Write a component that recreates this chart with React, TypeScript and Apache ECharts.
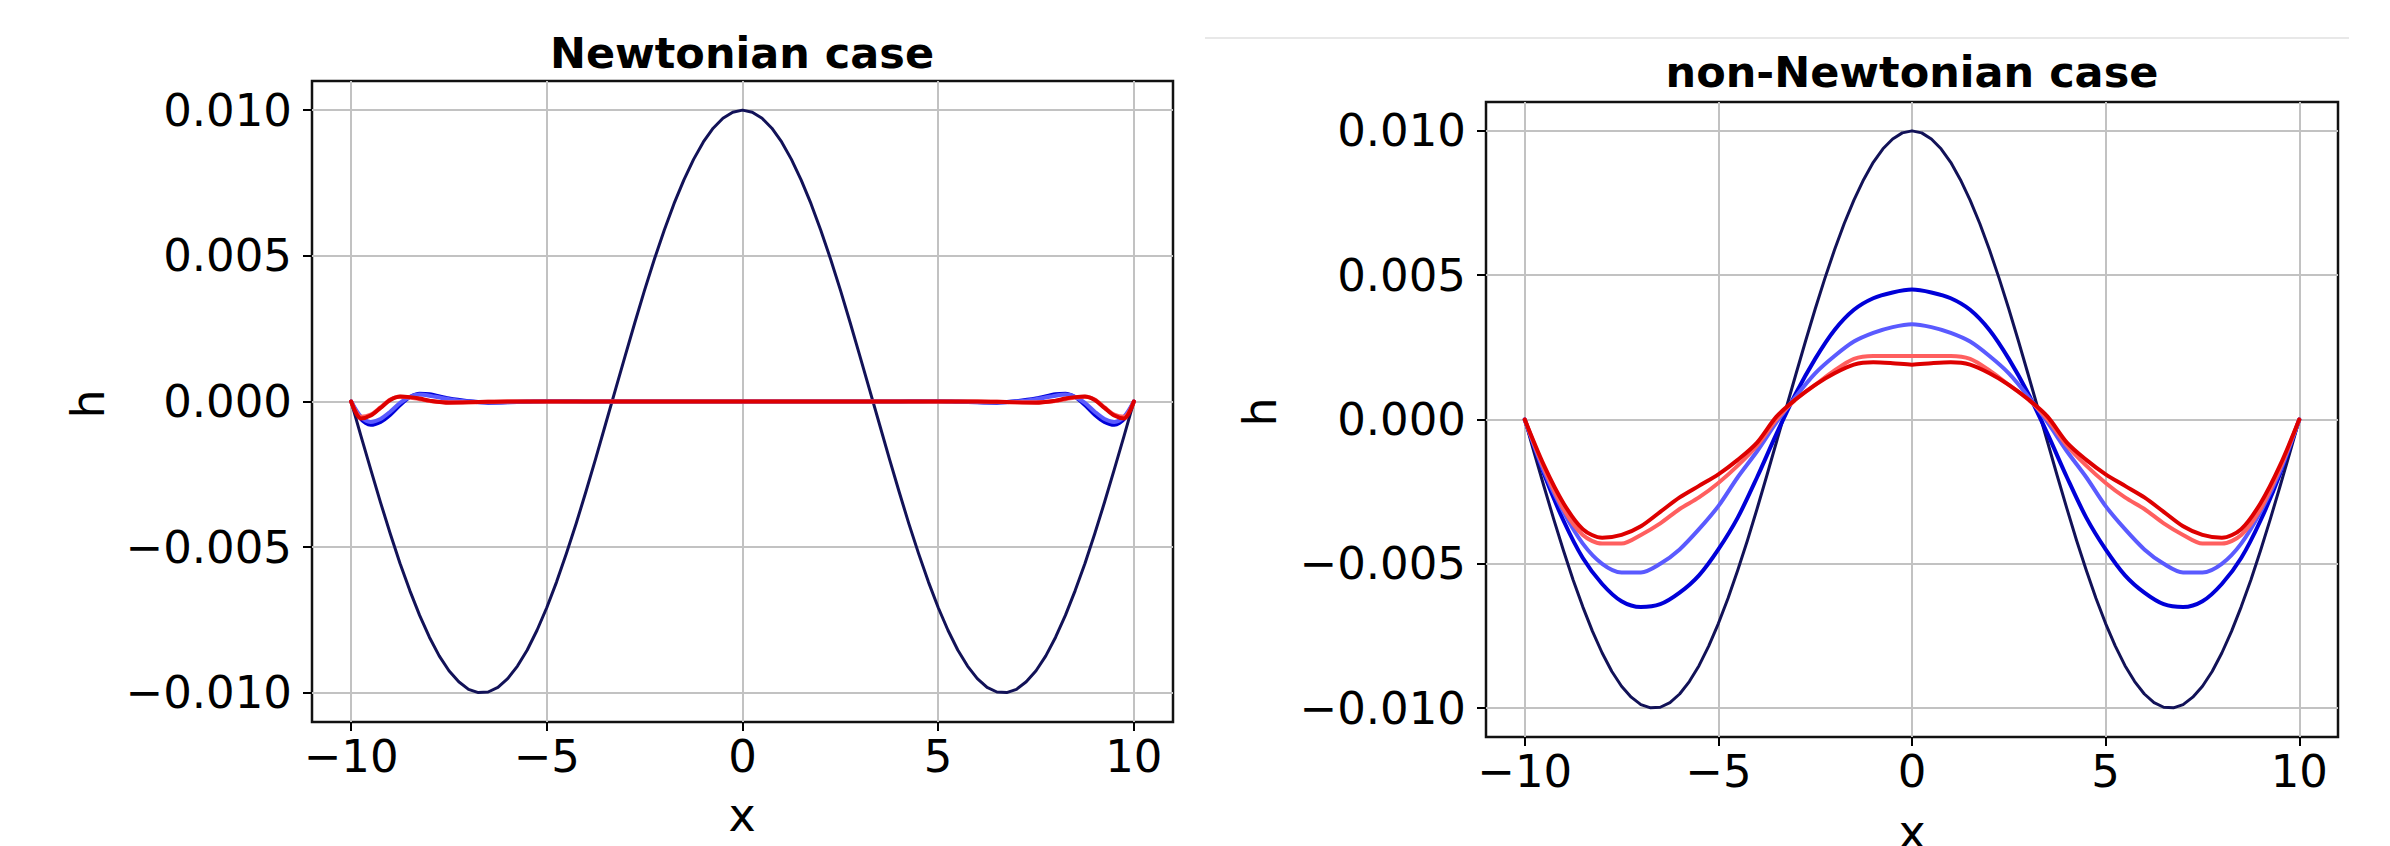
import React, { useEffect, useRef } from "react";
import * as echarts from "echarts";

// ---------- data ----------
const xTicks = [-10, -5, 0, 5, 10];
const yTicks = [-0.01, -0.005, 0, 0.005, 0.01];

// initial profile (dark navy), identical in both panels
const navyX = [-10, -9.75, -9.5, -9.25, -9, -8.75, -8.5, -8.25, -8, -7.75, -7.5, -7.25, -7, -6.75, -6.5, -6.25, -6, -5.75, -5.5, -5.25,
  -5, -4.75, -4.5, -4.25, -4, -3.75, -3.5, -3.25, -3, -2.75, -2.5, -2.25, -2, -1.75, -1.5, -1.25, -1, -0.75, -0.5, -0.25, 0,
  0.25, 0.5, 0.75, 1, 1.25, 1.5, 1.75, 2, 2.25, 2.5, 2.75, 3, 3.25, 3.5, 3.75, 4, 4.25, 4.5, 4.75,
  5, 5.25, 5.5, 5.75, 6, 6.25, 6.5, 6.75, 7, 7.25, 7.5, 7.75, 8, 8.25, 8.5, 8.75, 9, 9.25, 9.5, 9.75, 10];
const navyH = [0, -0.00118, -0.00233, -0.00346, -0.00454, -0.00556, -0.00649, -0.00734, -0.00809, -0.00873, -0.00924, -0.00962, -0.00988, -0.00999, -0.00997, -0.00981, -0.00951, -0.00908, -0.00853, -0.00785,
  -0.00707, -0.00619, -0.00522, -0.00419, -0.00309, -0.00195, -0.00078, 0.00039, 0.00156, 0.00271, 0.00383, 0.00489, 0.00588, 0.00679, 0.0076, 0.00831, 0.00891, 0.00938, 0.00972, 0.00993, 0.01,
  0.00993, 0.00972, 0.00938, 0.00891, 0.00831, 0.0076, 0.00679, 0.00588, 0.00489, 0.00383, 0.00271, 0.00156, 0.00039, -0.00078, -0.00195, -0.00309, -0.00419, -0.00522, -0.00619,
  -0.00707, -0.00785, -0.00853, -0.00908, -0.00951, -0.00981, -0.00997, -0.00999, -0.00988, -0.00962, -0.00924, -0.00873, -0.00809, -0.00734, -0.00649, -0.00556, -0.00454, -0.00346, -0.00233, -0.00118, 0];

const leftX = [-10, -9.75, -9.5, -9.25, -9, -8.75, -8.5, -8.25, -8, -7.5, -7, -6.5, -6, -5.5, -5, -4.5, -4, -3.5, -3, -2.5, -2, -1.5, -1, -0.5, 0,
  0.5, 1, 1.5, 2, 2.5, 3, 3.5, 4, 4.5, 5, 5.5, 6, 6.5, 7, 7.5, 8, 8.25, 8.5, 8.75, 9, 9.25, 9.5, 9.75, 10];

const leftBlue = [0, -0.0006, -0.0008, -0.0007, -0.00045, -0.00012, 0.00015, 0.00027, 0.00025, 0.0001, 0.00001, -0.00004, -0.00003, -0.00001, 0.00001, 0.00001, 0, 0, 0, 0, 0, 0, 0, 0, 0,
  0, 0, 0, 0, 0, 0, 0, 0, 0.00001, 0.00001, -0.00001, -0.00003, -0.00004, 0.00001, 0.0001, 0.00025, 0.00027, 0.00015, -0.00012, -0.00045, -0.0007, -0.0008, -0.0006, 0];

const leftLightBlue = [0, -0.00052, -0.0007, -0.0006, -0.00035, -0.00005, 0.00016, 0.00024, 0.0002, 0.00008, 0, -0.00003, -0.00002, 0, 0.00001, 0, 0, 0, 0, 0, 0, 0, 0, 0, 0,
  0, 0, 0, 0, 0, 0, 0, 0, 0, 0.00001, 0, -0.00002, -0.00003, 0, 0.00008, 0.0002, 0.00024, 0.00016, -0.00005, -0.00035, -0.0006, -0.0007, -0.00052, 0];

const leftLightRed = [0, -0.00052, -0.00045, -0.0002, 0.00007, 0.00016, 0.00014, 0.00008, 0.00002, -0.00003, -0.00003, -0.00001, 0, 0, 0, 0, 0, 0, 0, 0, 0, 0, 0, 0, 0,
  0, 0, 0, 0, 0, 0, 0, 0, 0, 0, 0, 0, -0.00001, -0.00003, -0.00003, 0.00002, 0.00008, 0.00014, 0.00016, 0.00007, -0.0002, -0.00045, -0.00052, 0];

const leftRed = [0, -0.00058, -0.00048, -0.00022, 0.00005, 0.00017, 0.00015, 0.0001, 0.00003, -0.00004, -0.00003, -0.00001, 0, 0, 0, 0, 0, 0, 0, 0, 0, 0, 0, 0, 0,
  0, 0, 0, 0, 0, 0, 0, 0, 0, 0, 0, 0, -0.00001, -0.00003, -0.00004, 0.00003, 0.0001, 0.00015, 0.00017, 0.00005, -0.00022, -0.00048, -0.00058, 0];

const rightX = [-10, -9.5, -9, -8.5, -8, -7.5, -7, -6.5, -6, -5.5, -5, -4.5, -4, -3.5, -3, -2.5, -2, -1.5, -1, -0.5, 0,
  0.5, 1, 1.5, 2, 2.5, 3, 3.5, 4, 4.5, 5, 5.5, 6, 6.5, 7, 7.5, 8, 8.5, 9, 9.5, 10];

const rightBlue = [0, -0.0019, -0.0035, -0.0048, -0.0057, -0.0063, -0.0065, -0.0064, -0.0060, -0.0054, -0.0045, -0.0034, -0.0020, -0.0005, 0.0009, 0.0021, 0.0031, 0.0038, 0.0042, 0.0044, 0.0045,
  0.0044, 0.0042, 0.0038, 0.0031, 0.0021, 0.0009, -0.0005, -0.0020, -0.0034, -0.0045, -0.0054, -0.0060, -0.0064, -0.0065, -0.0063, -0.0057, -0.0048, -0.0035, -0.0019, 0];

const rightLightBlue = [0, -0.0018, -0.0032, -0.0043, -0.0050, -0.0053, -0.0053, -0.0050, -0.0045, -0.0038, -0.0030, -0.0020, -0.0011, -0.0001, 0.0008, 0.0016, 0.0022, 0.0027, 0.0030, 0.0032, 0.0033,
  0.0032, 0.0030, 0.0027, 0.0022, 0.0016, 0.0008, -0.0001, -0.0011, -0.0020, -0.0030, -0.0038, -0.0045, -0.0050, -0.0053, -0.0053, -0.0050, -0.0043, -0.0032, -0.0018, 0];

const rightLightRed = [0, -0.0017, -0.0031, -0.0040, -0.0043, -0.0043, -0.0040, -0.0036, -0.0031, -0.0027, -0.0022, -0.0016, -0.0009, 0.0000, 0.0007, 0.0012, 0.0017, 0.0021, 0.0022, 0.0022, 0.0022,
  0.0022, 0.0022, 0.0021, 0.0017, 0.0012, 0.0007, 0.0000, -0.0009, -0.0016, -0.0022, -0.0027, -0.0031, -0.0036, -0.0040, -0.0043, -0.0043, -0.0040, -0.0031, -0.0017, 0];

const rightRed = [0, -0.0016, -0.0029, -0.0038, -0.0041, -0.0040, -0.0037, -0.0032, -0.0027, -0.0023, -0.0019, -0.0014, -0.0008, 0.0001, 0.0007, 0.0012, 0.0016, 0.0019, 0.00198, 0.00195, 0.0019,
  0.00195, 0.00198, 0.0019, 0.0016, 0.0012, 0.0007, 0.0001, -0.0008, -0.0014, -0.0019, -0.0023, -0.0027, -0.0032, -0.0037, -0.0040, -0.0041, -0.0038, -0.0029, -0.0016, 0];

const titles = ["Newtonian case", "non-Newtonian case"];

// ---------- styling ----------
const FONT = "DejaVu Sans";
const COLORS = { navy: "#121258", blue: "#0000d8", lightBlue: "#5a5aff", lightRed: "#ff5f5f", red: "#dd0000" };

const fmtX = (v: number) => (v < 0 ? "\u2212" + Math.abs(v) : String(v));
const fmtY = (v: number) => (v < -1e-12 ? "\u2212" + Math.abs(v).toFixed(3) : Math.abs(v).toFixed(3));

const pairs = (xs: number[], ys: number[]) => xs.map((x, i) => [x, ys[i]]);

function lineSeries(idx: number, xs: number[], ys: number[], color: string, width: number, smooth: number | boolean) {
  return {
    type: "line",
    xAxisIndex: idx,
    yAxisIndex: idx,
    data: pairs(xs, ys),
    showSymbol: false,
    smooth,
    lineStyle: { color, width, join: "round", cap: "round" },
    itemStyle: { color },
    z: 3,
  };
}

export default function App() {
  const ref = useRef<HTMLDivElement>(null);
  useEffect(() => {
    if (!ref.current) return;
    const chart = echarts.init(ref.current, undefined, { renderer: "svg" });
    const grids = [
      { left: 312, top: 81, width: 861, height: 641 },
      { left: 1486, top: 102, width: 852, height: 635 },
    ];
    const xAxes = [0, 1].map((i) => ({
      type: "value",
      gridIndex: i,
      min: -11,
      max: 11,
      axisLine: { show: false, onZero: false },
      axisTick: { show: true, customValues: xTicks, length: 9, lineStyle: { color: "#000", width: 2 } },
      axisLabel: { customValues: xTicks, formatter: fmtX, fontSize: 45, fontFamily: FONT, color: "#000", margin: 12 },
      splitLine: { show: true, lineStyle: { color: "#c2c2c2", width: 2 } },
    }));
    const yAxes = [0, 1].map((i) => ({
      type: "value",
      gridIndex: i,
      min: -0.011,
      max: 0.011,
      axisLine: { show: false, onZero: false },
      axisTick: { show: true, customValues: yTicks, length: 9, lineStyle: { color: "#000", width: 2 } },
      axisLabel: { customValues: yTicks, formatter: fmtY, fontSize: 45, fontFamily: FONT, color: "#000", margin: 20 },
      splitLine: { show: true, lineStyle: { color: "#c2c2c2", width: 2 } },
    }));
    const text = (t: string, x: number, y: number, font: string, rotation = 0) => ({
      type: "text",
      x,
      y,
      rotation,
      style: { text: t, font, fill: "#000", textAlign: "center", textVerticalAlign: "middle", align: "center", verticalAlign: "middle" },
      z: 10,
    });
    chart.setOption({
      animation: false,
      backgroundColor: "#ffffff",
      grid: grids.map((g) => ({ ...g, show: true, borderColor: "#111111", borderWidth: 2.5, backgroundColor: "transparent" })),
      xAxis: xAxes,
      yAxis: yAxes,
      series: [
        lineSeries(0, navyX, navyH, COLORS.navy, 3, false),
        lineSeries(0, leftX, leftBlue, COLORS.blue, 4, 0.3),
        lineSeries(0, leftX, leftLightBlue, COLORS.lightBlue, 4, 0.3),
        lineSeries(0, leftX, leftLightRed, COLORS.lightRed, 4, 0.3),
        lineSeries(0, leftX, leftRed, COLORS.red, 4, 0.3),
        lineSeries(1, navyX, navyH, COLORS.navy, 3, false),
        lineSeries(1, rightX, rightBlue, COLORS.blue, 4, 0.3),
        lineSeries(1, rightX, rightLightBlue, COLORS.lightBlue, 4, 0.3),
        lineSeries(1, rightX, rightLightRed, COLORS.lightRed, 4, 0.3),
        lineSeries(1, rightX, rightRed, COLORS.red, 4, 0.3),
      ],
      graphic: [
        { type: "line", shape: { x1: 1205, y1: 38, x2: 2349, y2: 38 }, style: { stroke: "#e8e8e8", lineWidth: 2 } },
        text(titles[0], 742, 53, `bold 43px "${FONT}"`),
        text(titles[1], 1912, 72, `bold 43px "${FONT}"`),
        text("h", 88, 404, `46px "${FONT}"`, Math.PI / 2),
        text("h", 1260, 412, `46px "${FONT}"`, Math.PI / 2),
        text("x", 742, 815, `46px "${FONT}"`),
        text("x", 1912, 832, `46px "${FONT}"`),
      ],
    });
    return () => chart.dispose();
  }, []);
  return (
    <div
      ref={ref}
      style={{ position: "absolute", left: 0, top: 0, width: 2390, height: 846, background: "#fff" }}
    />
  );
}
